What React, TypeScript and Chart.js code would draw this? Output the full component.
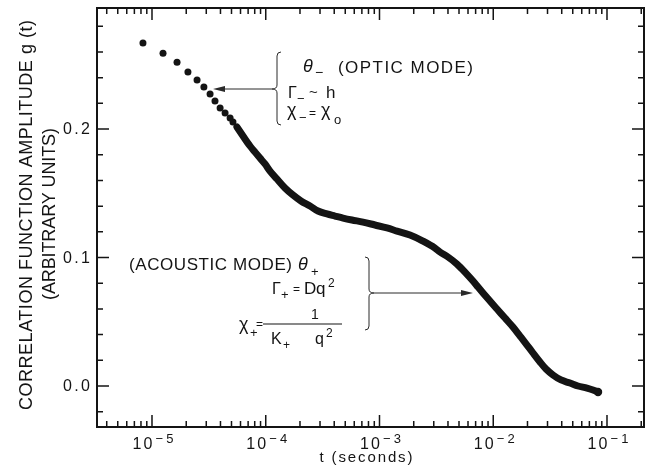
import React, { useEffect, useRef } from 'react';
import { Chart, registerables } from 'chart.js';

Chart.register(...registerables);

// ---- data ----
// early, well separated samples (seconds, arbitrary units)
const sparseT = [8.33e-6, 1.25e-5, 1.66e-5, 2.07e-5, 2.49e-5, 2.86e-5, 3.24e-5, 3.58e-5, 3.97e-5, 4.39e-5, 4.86e-5, 5.15e-5];
const sparseG = [0.267, 0.259, 0.252, 0.2444, 0.2381, 0.2327, 0.2272, 0.2218, 0.2163, 0.2125, 0.2086, 0.2054];

// dense samples that merge into a thick trace
const denseT = [
  5.58e-5, 6.31e-5, 7.27e-5, 8.04e-5, 8.9e-5, 9.85e-5, 1.09e-4, 1.256e-4, 1.476e-4, 1.736e-4,
  2.04e-4, 2.45e-4, 2.88e-4, 3.455e-4, 4.06e-4, 4.78e-4, 5.73e-4, 7.16e-4, 9.13e-4, 1.164e-3,
  1.425e-3, 1.854e-3, 2.41e-3, 3.075e-3, 3.4e-3, 4.0e-3, 4.8e-3, 5.64e-3, 6.64e-3, 7.35e-3,
  8.13e-3, 9.36e-3, 1.079e-2, 1.269e-2, 1.49e-2, 1.719e-2, 1.98e-2, 2.236e-2, 2.576e-2, 2.91e-2,
  3.35e-2, 3.94e-2, 4.73e-2, 5.56e-2, 6.67e-2, 7.53e-2, 8.34e-2,
];
const denseG = [
  0.2016, 0.1946, 0.1868, 0.1821, 0.1774, 0.1728, 0.1673, 0.1611, 0.1541, 0.1486,
  0.144, 0.1401, 0.1362, 0.1339, 0.1323, 0.1307, 0.1292, 0.1276, 0.1253, 0.123,
  0.1206, 0.1175, 0.1128, 0.1074, 0.1043, 0.1004, 0.0949, 0.0887, 0.0817, 0.077,
  0.0724, 0.0661, 0.0599, 0.0529, 0.0459, 0.0389, 0.0319, 0.0257, 0.0187, 0.0132,
  0.0086, 0.0047, 0.0023, 0.0, -0.0016, -0.0031, -0.0047,
];

const yTickValues = [0.0, 0.1, 0.2];
const yTickLabels = ['0.0', '0.1', '0.2'];
const xDecadeExps = [-5, -4, -3, -2, -1];
const xTitle = 't (seconds)';
const yTitleLines = ['CORRELATION FUNCTION AMPLITUDE g (t)', '(ARBITRARY UNITS)'];

const X_MIN = 3.285e-6;
const X_MAX = 0.2115;
const Y_MIN = -0.0319;
const Y_MAX = 0.2942;
const Y_MINOR_STEP = 0.02;

const FONT = '"Liberation Sans", Arial, Helvetica, sans-serif';
const INK = '#141414';

type TOpt = { align?: 'left' | 'center' | 'right'; spacing?: number; italic?: boolean; baseline?: CanvasTextBaseline; width?: number };

function drawText(ctx: CanvasRenderingContext2D, s: string, x: number, y: number, size: number, opt: TOpt = {}) {
  const { align = 'left', italic = false, baseline = 'alphabetic', width } = opt;
  let sp = opt.spacing ?? 0;
  ctx.font = `${italic ? 'italic ' : ''}${size}px ${FONT}`;
  (ctx as any).letterSpacing = '0px';
  const natural = ctx.measureText(s).width;
  const n = Array.from(s).length;
  if (width !== undefined && n > 1) sp = (width - natural) / (n - 1);
  (ctx as any).letterSpacing = `${sp}px`;
  const w = natural + sp * (n - 1);
  let left = x;
  if (align === 'center') left = x - w / 2;
  else if (align === 'right') left = x - w;
  ctx.textAlign = 'left';
  ctx.textBaseline = baseline;
  ctx.fillText(s, left, y);
  (ctx as any).letterSpacing = '0px';
  return w;
}

function leftBrace(ctx: CanvasRenderingContext2D, x0: number, y1: number, y2: number, yc: number, d: number, r: number) {
  ctx.beginPath();
  ctx.moveTo(x0 + r, y1);
  ctx.quadraticCurveTo(x0, y1, x0, y1 + r);
  ctx.lineTo(x0, yc - r);
  ctx.quadraticCurveTo(x0, yc, x0 - d, yc);
  ctx.quadraticCurveTo(x0, yc, x0, yc + r);
  ctx.lineTo(x0, y2 - r);
  ctx.quadraticCurveTo(x0, y2, x0 + r, y2);
  ctx.stroke();
}

function rightBrace(ctx: CanvasRenderingContext2D, x0: number, y1: number, y2: number, yc: number, d: number, r: number) {
  ctx.beginPath();
  ctx.moveTo(x0 - r, y1);
  ctx.quadraticCurveTo(x0, y1, x0, y1 + r);
  ctx.lineTo(x0, yc - r);
  ctx.quadraticCurveTo(x0, yc, x0 + d, yc);
  ctx.quadraticCurveTo(x0, yc, x0, yc + r);
  ctx.lineTo(x0, y2 - r);
  ctx.quadraticCurveTo(x0, y2, x0 - r, y2);
  ctx.stroke();
}

function arrow(ctx: CanvasRenderingContext2D, xFrom: number, xTo: number, y: number) {
  const dir = xTo > xFrom ? 1 : -1;
  ctx.beginPath();
  ctx.moveTo(xFrom, y);
  ctx.lineTo(xTo - dir * 10, y);
  ctx.stroke();
  ctx.beginPath();
  ctx.moveTo(xTo, y);
  ctx.lineTo(xTo - dir * 12, y - 3);
  ctx.lineTo(xTo - dir * 12, y + 3);
  ctx.closePath();
  ctx.fill();
}

const decor = {
  id: 'decor',
  afterDraw(chart: any) {
    const { ctx, chartArea: a, scales } = chart;
    const xs = scales.x;
    const ys = scales.y;
    ctx.save();
    ctx.strokeStyle = INK;
    ctx.fillStyle = INK;
    ctx.lineCap = 'butt';

    // frame
    ctx.lineWidth = 2;
    ctx.strokeRect(a.left, a.top, a.right - a.left, a.bottom - a.top);

    // y ticks (inward on both sides)
    ctx.lineWidth = 1.5;
    const iStart = Math.ceil(Y_MIN / Y_MINOR_STEP);
    const iEnd = Math.floor(Y_MAX / Y_MINOR_STEP);
    for (let i = iStart; i <= iEnd; i++) {
      const v = i * Y_MINOR_STEP;
      const py = ys.getPixelForValue(v);
      const major = i % 5 === 0;
      const len = major ? 12 : 6;
      ctx.beginPath();
      ctx.moveTo(a.left, py);
      ctx.lineTo(a.left + len, py);
      ctx.moveTo(a.right, py);
      ctx.lineTo(a.right - len, py);
      ctx.stroke();
    }

    // x ticks (inward on top and bottom)
    for (let e = -6; e <= -1; e++) {
      for (let m = 1; m <= 9; m++) {
        const v = m * Math.pow(10, e);
        if (v < X_MIN || v > X_MAX) continue;
        const px = xs.getPixelForValue(v);
        const len = m === 1 ? 12 : 6;
        ctx.beginPath();
        ctx.moveTo(px, a.bottom);
        ctx.lineTo(px, a.bottom - len);
        ctx.moveTo(px, a.top);
        ctx.lineTo(px, a.top + len);
        ctx.stroke();
      }
    }

    // y tick labels
    yTickValues.forEach((v, i) => {
      drawText(ctx, yTickLabels[i], 90, ys.getPixelForValue(v) + 1, 16, { align: 'right', width: 27, baseline: 'middle' });
    });

    // x tick labels 10^e
    xDecadeExps.forEach((e) => {
      const px = xs.getPixelForValue(Math.pow(10, e)) + 1;
      const wBase = 20;
      const sup = '\u2212' + String(Math.abs(e));
      const wSup = 18;
      const left = px - (wBase + 3 + wSup) / 2;
      drawText(ctx, '10', left, 449, 16, { width: wBase });
      drawText(ctx, sup, left + wBase + 3, 443, 13, { width: wSup });
    });

    // axis titles
    drawText(ctx, xTitle, 366, 458, 15, { align: 'center', width: 93, baseline: 'middle' });
    ctx.save();
    ctx.translate(27, 215);
    ctx.rotate(-Math.PI / 2);
    drawText(ctx, yTitleLines[0], 0, 0, 18, { align: 'center', width: 390, baseline: 'middle' });
    ctx.restore();
    ctx.save();
    ctx.translate(50, 214);
    ctx.rotate(-Math.PI / 2);
    drawText(ctx, yTitleLines[1], 0, 0, 18, { align: 'center', width: 172, baseline: 'middle' });
    ctx.restore();

    // ---- optic mode annotation ----
    drawText(ctx, '\u03B8', 303, 72, 18, { italic: true });
    drawText(ctx, '\u2212', 315, 77, 14);
    drawText(ctx, '(OPTIC MODE)', 338, 73, 17, { width: 135 });
    drawText(ctx, '\u0393', 288, 98, 16);
    drawText(ctx, '\u2212', 297, 103, 13);
    drawText(ctx, '~', 309, 97, 15);
    drawText(ctx, 'h', 326, 98, 17);
    drawText(ctx, '\u03C7', 287, 116, 18);
    drawText(ctx, '\u2212', 299, 122, 13);
    drawText(ctx, '=', 309, 117, 12);
    drawText(ctx, '\u03C7', 321, 116, 18);
    drawText(ctx, 'o', 334, 124, 13);

    ctx.lineWidth = 1;
    ctx.strokeStyle = '#2a2a2a';
    ctx.fillStyle = '#2a2a2a';
    leftBrace(ctx, 277, 52, 125, 89, 5, 4);
    arrow(ctx, 272, 213, 89);

    // ---- acoustic mode annotation ----
    ctx.fillStyle = INK;
    drawText(ctx, '(ACOUSTIC MODE)', 129, 270, 17, { width: 163 });
    drawText(ctx, '\u03B8', 298, 270, 18, { italic: true });
    drawText(ctx, '+', 311, 276, 13);
    drawText(ctx, '\u0393', 272, 294, 16);
    drawText(ctx, '+', 281, 299, 13);
    drawText(ctx, '=', 293, 293, 12);
    drawText(ctx, 'D', 304, 294, 17);
    drawText(ctx, 'q', 316, 294, 17);
    drawText(ctx, '2', 328, 287, 12);
    drawText(ctx, '\u03C7', 239, 330, 18);
    drawText(ctx, '+', 250, 337, 13);
    drawText(ctx, '=', 256, 328, 12);
    drawText(ctx, '1', 311, 319, 14);
    drawText(ctx, 'K', 271, 344, 16);
    drawText(ctx, '+', 283, 349, 12);
    drawText(ctx, 'q', 315, 344, 16);
    drawText(ctx, '2', 326, 337, 12);
    ctx.strokeStyle = INK;
    ctx.lineWidth = 1.2;
    ctx.beginPath();
    ctx.moveTo(263, 324);
    ctx.lineTo(342, 324);
    ctx.stroke();

    ctx.lineWidth = 1;
    ctx.strokeStyle = '#2a2a2a';
    ctx.fillStyle = '#2a2a2a';
    rightBrace(ctx, 369, 257, 330, 293, 5, 4);
    arrow(ctx, 374, 473, 293);

    ctx.restore();
  },
};

export default function App() {
  const ref = useRef<HTMLCanvasElement>(null);
  useEffect(() => {
    document.body.style.margin = '0';
    const canvas = ref.current;
    if (!canvas) return;
    const chart = new Chart(canvas, {
      type: 'scatter',
      data: {
        datasets: [
          {
            data: sparseT.map((t, i) => ({ x: t, y: sparseG[i] })),
            showLine: false,
            pointRadius: 3.5,
            pointBackgroundColor: INK,
            pointBorderWidth: 0,
          },
          {
            data: denseT.map((t, i) => ({ x: t, y: denseG[i] })),
            showLine: true,
            borderColor: INK,
            borderWidth: 7,
            borderCapStyle: 'round',
            borderJoinStyle: 'round',
            cubicInterpolationMode: 'monotone',
            pointRadius: (c: any) => (c.dataIndex === denseT.length - 1 ? 4.2 : 0),
            pointBackgroundColor: INK,
            pointBorderWidth: 0,
          },
        ],
      },
      options: {
        animation: false,
        responsive: false,
        maintainAspectRatio: false,
        layout: { padding: { left: 97, right: 5, top: 8, bottom: 49 } },
        plugins: { legend: { display: false }, tooltip: { enabled: false } },
        scales: {
          x: { type: 'logarithmic', min: X_MIN, max: X_MAX, display: false },
          y: { type: 'linear', min: Y_MIN, max: Y_MAX, display: false },
        },
      } as any,
      plugins: [decor],
    });
    return () => chart.destroy();
  }, []);
  return <canvas ref={ref} width={649} height={476} style={{ display: 'block' }} />;
}
